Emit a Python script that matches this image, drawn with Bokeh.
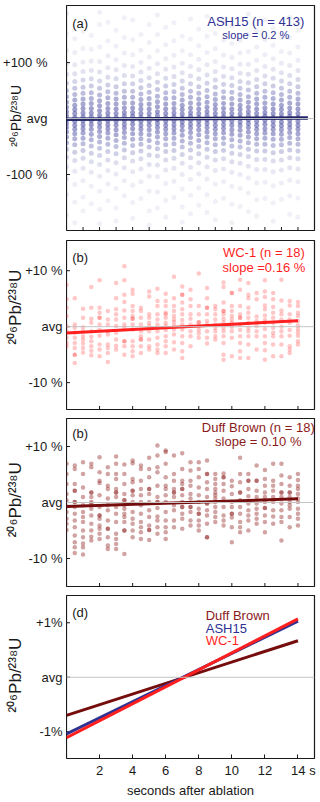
from bokeh.plotting import figure
from bokeh.models import Label, Span, FixedTicker, Range1d
from bokeh.layouts import column, row
from bokeh.core.properties import value
from bokeh.embed import file_html
from bokeh.resources import INLINE
import math

FONT = "Liberation Sans"
INK = "#1a1a1a"

# ---------------- data ----------------
seconds = [0, 0.5, 1, 1.5, 2, 2.5, 3, 3.5, 4, 4.5, 5, 5.5, 6, 6.5, 7, 7.5,
           8, 8.5, 9, 9.5, 10, 10.5, 11, 11.5, 12, 12.5, 13, 13.5, 14]

# ASH15 (n = 413): deviation from average (%) per time slice (estimated)
ash15_cols = [
    [188, 152, 121, 98, 79, 63, 50, 39, 29, 20, 12, 5, -2, -9, -16, -24, -33, -43, -55, -69, -86, -108, -136, -172],
    [143, 118, 96, 80, 66, 54, 43, 33, 24, 16, 9, 2, -5, -12, -19, -27, -36, -47, -60, -75, -94, -118, -149, -186],
    [156, 125, 101, 84, 69, 56, 45, 35, 26, 18, 10, 3, -4, -11, -18, -26, -35, -45, -57, -71, -89, -111, -140, -165],
    [149, 124, 103, 86, 71, 58, 46, 36, 27, 18, 10, 3, -4, -11, -19, -28, -38, -49, -62, -77, -96, -121, -152],
    [190, 168, 128, 102, 83, 67, 54, 42, 32, 23, 14, 6, -1, -8, -15, -23, -32, -42, -53, -66, -82, -103, -130, -162, -188],
    [172, 139, 112, 91, 74, 60, 48, 37, 27, 18, 10, 3, -4, -11, -18, -26, -35, -46, -59, -74, -93, -117, -147],
    [158, 129, 105, 87, 71, 57, 45, 35, 26, 17, 9, 2, -5, -12, -20, -29, -39, -50, -63, -79, -99, -125, -160, -183],
    [180, 145, 117, 95, 77, 62, 49, 38, 28, 19, 11, 4, -3, -10, -17, -25, -34, -44, -56, -70, -88, -111, -138],
    [176, 141, 114, 93, 76, 62, 49, 38, 28, 19, 11, 4, -3, -10, -18, -27, -37, -48, -61, -76, -95, -119, -150, -178],
    [150, 122, 100, 83, 68, 55, 44, 34, 25, 17, 9, 2, -5, -12, -19, -27, -36, -46, -58, -72, -90, -113, -143],
    [168, 136, 110, 90, 73, 59, 47, 36, 26, 17, 9, 2, -5, -12, -20, -29, -39, -51, -65, -82, -103, -130, -165, -190],
    [185, 150, 121, 98, 80, 65, 52, 40, 30, 21, 12, 5, -2, -9, -16, -24, -33, -43, -54, -67, -83, -104, -131, -160],
    [163, 132, 107, 88, 72, 58, 46, 36, 26, 17, 9, 2, -5, -12, -19, -27, -36, -47, -59, -74, -92, -116, -146, -176],
    [171, 139, 113, 92, 75, 61, 48, 37, 27, 18, 10, 3, -4, -11, -18, -26, -35, -45, -57, -71, -89, -112, -141],
    [147, 121, 99, 82, 67, 54, 43, 33, 24, 16, 8, 1, -6, -13, -21, -30, -40, -51, -64, -80, -100, -126, -158, -185],
    [178, 142, 114, 93, 76, 62, 49, 38, 28, 19, 11, 4, -3, -10, -17, -25, -34, -44, -56, -70, -87, -109, -137, -170],
    [160, 130, 106, 87, 71, 57, 45, 35, 26, 17, 9, 2, -5, -12, -20, -29, -39, -50, -63, -79, -99, -124, -155],
    [183, 147, 118, 96, 78, 63, 50, 39, 29, 20, 12, 5, -2, -9, -16, -24, -33, -43, -55, -69, -86, -108, -136, -168],
    [152, 125, 102, 84, 69, 56, 44, 34, 25, 17, 9, 2, -5, -12, -19, -27, -36, -47, -59, -74, -93, -117, -148, -181],
    [174, 140, 113, 92, 75, 61, 48, 37, 27, 18, 10, 3, -4, -11, -18, -26, -35, -45, -57, -72, -90, -113, -143],
    [165, 134, 109, 89, 73, 59, 47, 36, 26, 17, 9, 2, -5, -12, -20, -28, -38, -49, -62, -77, -96, -121, -153, -186],
    [140, 117, 97, 81, 66, 54, 43, 33, 24, 16, 8, 1, -6, -13, -21, -30, -40, -51, -64, -80, -100, -125, -157],
    [187, 150, 120, 97, 79, 64, 51, 39, 29, 20, 12, 5, -2, -9, -16, -24, -33, -43, -55, -68, -85, -106, -133, -166],
    [157, 128, 104, 86, 70, 57, 45, 35, 26, 17, 9, 2, -5, -12, -19, -27, -36, -46, -58, -73, -91, -115, -145, -174],
    [176, 141, 114, 93, 76, 62, 49, 38, 28, 19, 11, 4, -3, -10, -18, -26, -35, -46, -58, -73, -91, -114, -143],
    [162, 131, 107, 88, 72, 58, 46, 36, 26, 17, 9, 2, -5, -12, -19, -27, -37, -48, -61, -76, -95, -120, -151, -183],
    [145, 120, 99, 82, 67, 54, 43, 33, 24, 16, 8, 1, -6, -13, -20, -28, -37, -47, -59, -74, -92, -115, -144],
    [181, 145, 117, 95, 77, 62, 49, 38, 28, 19, 11, 4, -3, -10, -17, -25, -34, -44, -56, -70, -88, -110, -138, -171],
    [158, 128, 104, 86, 70, 57, 45, 35, 26, 17, 9, 2, -5, -12, -19, -27, -36, -46, -58, -72, -90, -113, -142, -176],
]

# WC-1 (n = 18)
wc1_cols = [
    [7.5, 4.9, 3.4, 1.9, 0.1, -0.8, -2.0, -2.9, -3.5],
    [5.1, 0.4, -0.2, -1.1, -2.0, -2.9, -3.8, -5.0, -5.0, -6.5],
    [3.2, 1.6, -0.1, -0.8, -1.7, -2.3, -3.0, -3.8, -4.6],
    [7.1, 3.4, 1.4, 0.7, -0.8, -1.8, -2.6, -3.5, -4.3, -5.1],
    [8.3, 3.4, 2.5, 1.6, 1.6, 0.4, -0.6, -1.6, -3.2, -4.1, -5.3],
    [2.8, 1.3, 0.4, -0.8, -1.4, -3.2, -3.8, -4.7, -6.3],
    [7.8, 5.1, 3.1, 2.2, 1.3, 0.1, -1.1, -2.3, -3.4, -4.1],
    [10.8, 8.3, 5.7, 4.4, 2.9, 1.6, 0.4, -0.2, -2.6, -2.6, -3.5, -5.0],
    [6.6, 5.9, 3.7, 2.8, 1.9, 1.4, 1.4, 0.4, -0.5, -2.6, -3.5, -4.4, -5.3],
    [3.4, 2.8, 1.6, 0.4, -0.8, -1.7, -2.3, -2.3, -3.5, -4.7],
    [6.3, 5.4, 2.2, 1.6, 0.7, 0.1, -0.8, -2.3, -3.5, -4.1],
    [6.8, 4.6, 3.7, 2.2, 1.3, 0.4, -0.8, -2.0, -3.2, -4.1, -4.7],
    [5.9, 4.6, 3.7, 2.5, 2.2, 1.6, 0.7, 0.1, -0.6, -1.7, -2.6, -3.5, -4.7],
    [8.9, 5.1, 3.7, 2.8, 1.9, 1.3, 0.8, 0.1, -0.5, -1.4, -2.8, -4.1],
    [7.2, 5.7, 5.7, 4.3, 3.1, 2.2, 1.2, 0.4, -0.5, -1.7, -2.9, -4.4, -5.6],
    [6.6, 4.9, 3.7, 2.2, 1.4, 0.4, -0.8, -1.7, -3.5],
    [9.5, 3.7, 2.2, 0.8, 0.8, 0.1, -0.6, -1.2, -2.0],
    [6.9, 5.1, 3.4, 3.4, 2.2, 1.0, 0.4, -0.8, -2.0, -3.0],
    [3.7, 3.1, 2.2, 1.3, 0.4, -0.2, -0.8, -1.7, -2.3],
    [7.9, 7.1, 4.3, 2.8, 2.8, 2.2, 1.4, 0.8, -0.2, -0.8, -1.7, -2.9, -5.0, -5.9],
    [6.0, 6.0, 3.7, 2.8, 1.9, 1.3, 0.7, 0.0, -0.8, -2.0, -5.3],
    [8.4, 6.6, 3.7, 2.2, 1.6, 1.6, 0.4, -0.6, -1.7, -2.9, -4.4, -5.6],
    [7.8, 5.7, 5.1, 3.4, 2.5, 1.6, 0.7, -0.2, -0.8, -1.7, -3.2, -5.6],
    [6.0, 4.9, 1.8, 1.0, 0.1, -0.8, -1.7, -4.1],
    [8.3, 6.3, 5.3, 3.8, 3.1, 2.0, 1.2, 0.7, -0.4, -1.7, -2.9, -4.2, -5.9],
    [6.0, 4.9, 3.5, 2.5, 1.6, 0.7, -0.2, -1.1, -1.7, -3.2, -5.3],
    [8.4, 4.7, 2.9, 2.2, 1.3, 0.0, -0.8, -1.7, -3.2, -5.3],
    [4.6, 3.8, 2.2, 1.3, 0.7, -0.6, -1.6, -3.5, -4.1, -4.7],
    [4.4, 3.7, 2.5, 1.9, 1.0, 0.2, -0.4, -1.0, -1.6, -2.6, -3.2],
]

# Duff Brown (n = 18)
duff_cols = [
    [6.9, 5.1, 3.3, 1.5, 0.4, -0.7, -1.7, -2.9, -3.8, -4.9],
    [6.6, 6.0, 3.3, 2.1, 2.1, 0.1, 0.1, -0.8, -2.0, -3.2, -4.4, -5.9, -7.1, -8.0, -9.0],
    [7.2, 5.1, 2.7, 1.0, -0.5, -1.7, -2.6, -3.5, -5.0, -6.2, -7.3, -8.0, -9.3],
    [6.9, 6.3, 1.8, 1.8, 1.0, 0.1, -0.2, -1.1, -2.3, -3.8, -5.0, -6.1, -6.8],
    [8.1, 5.4, 3.9, 3.5, 1.3, -0.8, -2.3, -2.3, -2.9, -4.1, -4.7, -5.6, -6.5],
    [6.3, 5.1, 3.0, 2.4, 0.7, -0.5, -1.4, -3.2, -4.7, -4.7, -6.2, -7.7, -8.3],
    [8.2, 6.9, 5.1, 4.2, 2.4, 1.8, 1.8, 1.0, -0.8, -2.0, -3.5, -5.6, -6.5, -7.4, -8.3],
    [6.8, 5.1, 3.3, 1.5, 0.4, 0.4, -0.5, -1.1, -2.0, -2.6, -3.5, -5.0, -5.0, -9.2],
    [7.5, 7.0, 4.2, 3.6, 2.1, 2.1, 1.3, 0.1, -1.7, -2.9, -3.8, -5.0, -6.2],
    [6.6, 6.0, 3.9, 2.4, 1.3, 0.1, -0.5, -2.0, -3.5, -4.4, -5.3, -6.5],
    [8.0, 6.0, 4.5, 2.4, 2.4, 1.5, 0.1, -1.4, -2.6, -4.1, -4.9, -4.9, -6.7],
    [10.2, 8.4, 6.3, 5.4, 3.0, 1.0, 0.1, 0.1, -1.0, -2.5, -3.2, -4.4, -5.6],
    [9.3, 9.0, 6.9, 4.5, 3.0, 2.4, 1.3, 0.1, -1.7, -3.2, -4.4, -5.3, -6.5],
    [8.4, 5.1, 3.9, 2.4, 1.8, 1.8, 1.0, -0.5, -1.4, -3.2, -4.4],
    [8.8, 6.0, 3.9, 3.3, 2.4, 2.4, 1.3, 0.1, -0.8, -0.8, -2.0, -2.9, -4.7],
    [7.2, 5.7, 3.9, 3.0, 1.5, 0.7, -0.8, -0.8, -1.7, -3.2, -4.1],
    [7.2, 6.0, 4.5, 2.7, 1.3, 0.1, -1.1, -2.0, -2.0, -3.2, -4.1, -5.0],
    [7.5, 5.1, 5.1, 3.6, 2.4, 1.0, -0.2, -0.2, -1.4, -2.3, -3.8, -6.2, -6.2],
    [5.1, 4.2, 3.3, 2.4, 1.8, 1.3, 0.7, 0.1, -0.8, -1.7, -2.6, -3.5],
    [5.2, 4.5, 4.5, 3.3, 2.1, 0.7, -0.8, -2.3, -3.2, -4.1],
    [3.9, 2.9, 1.5, 0.1, -0.8, -2.0, -2.0, -2.7, -4.4, -7.1],
    [8.0, 5.1, 3.6, 1.8, 1.8, 0.4, -0.8, -2.0, -3.5, -4.4, -5.3],
    [5.1, 3.9, 3.9, 2.4, 1.1, -0.2, -1.4, -2.3, -3.2, -5.0],
    [6.6, 3.9, 3.9, 2.1, 1.0, -0.2, -1.1, -2.0, -2.9, -3.8],
    [5.8, 4.2, 3.0, 1.8, 1.0, 0.1, -1.0, -1.0, -2.3, -3.5, -5.3],
    [6.9, 3.9, 3.0, 2.1, 1.0, 0.1, -1.4, -2.5, -3.8],
    [6.9, 4.8, 3.3, 1.8, 1.8, 1.0, -0.2, -1.4, -2.6, -3.5, -6.8],
    [4.5, 3.0, 1.8, 1.8, 1.0, 0.1, -0.5, -1.1, -2.6, -4.4],
    [5.1, 4.0, 3.0, 2.4, 1.5, 0.7, 0.1, -1.1, -2.0, -2.9, -4.1],
]

# linear fits (% deviation at start / end)
fit_x = [0, 14]
ash15_fit = [-1.04, 1.03]
wc1_fit = [-1.11, 1.07]
duff_fit = [-0.70, 0.67]
ash15_line_x = [0, 14.6]
ash15_line_y = [-1.04, 1.13]

a_ticks = [100, 0, -100]
a_tick_labels = ["+100 %", "avg", "-100 %"]
bc_ticks = [10, 0, -10]
bc_tick_labels = ["+10 %", "avg", "-10 %"]
d_ticks = [1, 0, -1]
d_tick_labels = ["+1%", "avg", "-1%"]
a_xticks = [1, 2, 3, 4, 5, 6, 7, 8, 9, 10, 11, 12, 13, 14]
x_ticks = [2, 4, 6, 8, 10, 12, 14]

C_ASH = "#2e3192"
C_ASH_LINE = "#202566"
C_WC = "#ff1f1f"
C_DUFF = "#8b1a1a"
C_DUFF_LINE = "#750d0d"

YTITLE = "\u00b2\u2070\u2076Pb/\u00b2\u00b3\u2078U"

LEFT_W = 66
MAIN_W = 254


def flatten(cols):
    xs, ys = [], []
    for s, vals in zip(seconds, cols):
        for v in vals:
            xs.append(s)
            ys.append(v)
    return xs, ys


def base(width, h, yr, top, bottom, xr):
    p = figure(width=width, height=h, x_range=xr, y_range=yr,
               output_backend="svg", toolbar_location=None,
               min_border=0, min_border_left=0, min_border_right=0,
               min_border_top=top, min_border_bottom=bottom)
    p.grid.visible = False
    p.xaxis.visible = False
    p.yaxis.visible = False
    p.background_fill_color = "white"
    p.border_fill_color = "white"
    return p


def make_main(h, yr, top, bottom, xticks, yticks, show_xaxis=False):
    p = base(MAIN_W, h, yr, top, bottom, Range1d(0, 15))
    p.min_border_right = 6
    p.outline_line_color = INK
    p.outline_line_width = 1.2
    p.outline_line_alpha = 1
    p.add_layout(Span(location=0, dimension="width", line_color="#c4c4c4", line_width=1))
    # inward tick marks (half of each dash is clipped by the frame)
    if not show_xaxis:
        p.scatter(xticks, [yr.start] * len(xticks), marker="dash", angle=math.pi / 2,
                  size=7, line_color=INK, line_width=1)
    p.scatter([0] * len(yticks), yticks, marker="dash", size=7, line_color=INK, line_width=1)
    return p


def make_left(h, yr, top, bottom, ticks, labels, label_x, title_y, title_size):
    q = base(LEFT_W, h, yr, top, bottom, Range1d(0, LEFT_W))
    q.outline_line_color = None
    q.text([label_x] * len(ticks), ticks, text=labels, text_font=value(FONT),
           text_font_size=value("13px"), text_color=INK, text_align="right",
           text_baseline="middle")
    q.text([15], [title_y], text=[YTITLE], text_font=value(FONT),
           text_font_size=value(title_size), text_color=INK, text_align="center",
           text_baseline="middle", angle=math.pi / 2)
    return q


def lab(p, x, y, text, size=13, color=INK, align="left"):
    p.add_layout(Label(x=x, y=y, text=text, text_font=FONT, text_font_size=f"{size}px",
                       text_color=color, text_align=align, text_baseline="middle"))


# ---------------- panel a ----------------
ya = Range1d(-200, 202)
pa = make_main(240, ya, 5, 10, a_xticks, a_ticks)
ax_, ay_ = flatten(ash15_cols)
# shade by overlap of the 413 analyses (denser near the average)
a_alpha = [0.07 + 0.42 * math.exp(-(v / 62.0) ** 2) for v in ay_]
pa.scatter(ax_, ay_, size=5, color=C_ASH, alpha=a_alpha, line_color=None)
pa.line(ash15_line_x, ash15_line_y, line_color=C_ASH_LINE, line_width=3.5)
lab(pa, 0.35, 170, "(a)", size=13)
lab(pa, 11.45, 173, "ASH15 (n = 413)", size=13, color=C_ASH, align="center")
lab(pa, 11.45, 150, "slope = 0.2 %", size=11, color=C_ASH, align="center")
la = make_left(240, ya, 5, 10, a_ticks, a_tick_labels, 47, 5, "14px")

# ---------------- panel b ----------------
yb = Range1d(-14.8, 15.4)
pb = make_main(178, yb, 0, 9, x_ticks, bc_ticks)
bx_, by_ = flatten(wc1_cols)
pb.scatter(bx_, by_, size=4.5, color=C_WC, alpha=0.25, line_color=None)
pb.line(fit_x, wc1_fit, line_color=C_WC, line_width=3)
lab(pb, 0.35, 12.3, "(b)", size=13)
lab(pb, 11.94, 13.3, "WC-1 (n = 18)", size=13, color=C_WC, align="center")
lab(pb, 11.94, 10.5, "slope =0.16 %", size=13, color=C_WC, align="center")
lb = make_left(178, yb, 0, 9, bc_ticks, bc_tick_labels, 62, 3.5, "17px")

# ---------------- panel c ----------------
yc = Range1d(-15, 15)
pc = make_main(177, yc, 0, 9, x_ticks, bc_ticks)
cx_, cy_ = flatten(duff_cols)
pc.scatter(cx_, cy_, size=4.5, color=C_DUFF, alpha=0.4, line_color=None)
pc.line(fit_x, duff_fit, line_color=C_DUFF_LINE, line_width=3)
lab(pc, 0.35, 12.3, "(b)", size=13)
lab(pc, 11.6, 13.4, "Duff Brown (n = 18)", size=13, color=C_DUFF, align="center")
lab(pc, 11.6, 10.9, "slope = 0.10 %", size=13, color=C_DUFF, align="center")
lc = make_left(177, yc, 0, 9, bc_ticks, bc_tick_labels, 62, 0.5, "17px")

# ---------------- panel d ----------------
yd = Range1d(-1.49, 1.5)
pd_ = make_main(205, yd, 0, 36, x_ticks, d_ticks, show_xaxis=True)
xa = pd_.xaxis[0]
xa.visible = True
xa.ticker = FixedTicker(ticks=x_ticks)
xa.axis_line_color = None
xa.major_tick_in = 4
xa.major_tick_out = 0
xa.minor_tick_line_color = None
xa.major_tick_line_color = INK
xa.major_label_text_font_size = "13px"
xa.major_label_text_font = FONT
xa.major_label_text_color = INK
xa.major_label_standoff = 4
xa.major_label_overrides = {14: "\u00a0\u00a0\u00a014 s"}
xa.axis_label = "seconds after ablation"
xa.axis_label_text_font = FONT
xa.axis_label_text_font_size = "13px"
xa.axis_label_text_font_style = "normal"
xa.axis_label_text_color = INK
xa.axis_label_standoff = 2
pd_.line(fit_x, duff_fit, line_color=C_DUFF_LINE, line_width=3)
pd_.line(fit_x, ash15_fit, line_color=C_ASH, line_width=3)
pd_.line(fit_x, wc1_fit, line_color=C_WC, line_width=3)
lab(pd_, 0.35, 1.19, "(d)", size=13)
lab(pd_, 8.42, 1.13, "Duff Brown", size=13, color=C_DUFF)
lab(pd_, 8.42, 0.90, "ASH15", size=13, color=C_ASH)
lab(pd_, 8.42, 0.67, "WC-1", size=13, color=C_WC)
ld = make_left(205, yd, 0, 36, d_ticks, d_tick_labels, 62, 0.04, "17px")

layout = column(row(la, pa, spacing=0), row(lb, pb, spacing=0),
                row(lc, pc, spacing=0), row(ld, pd_, spacing=0), spacing=0)
open("out.html", "w").write(file_html(layout, INLINE))
